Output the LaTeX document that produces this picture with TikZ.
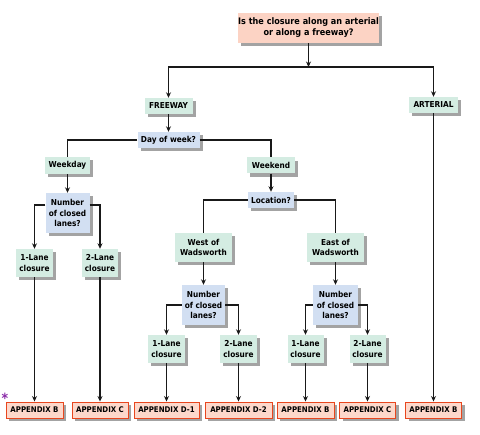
\documentclass[tikz,border=0pt]{standalone}
\usepackage{fontspec}
\setmainfont{DejaVu Sans Condensed}[BoldFont={DejaVu Sans Condensed Bold}]
\usepackage{xcolor}
\usepackage{tikz}
\usetikzlibrary{positioning,arrows.meta,shadows,calc}
\definecolor{qpink}{HTML}{FCD3C4}
\definecolor{appfill}{HTML}{FDD8CB}
\definecolor{appedge}{HTML}{E8461E}
\definecolor{ansgreen}{HTML}{D4ECE2}
\definecolor{askblue}{HTML}{D2DFF2}
\definecolor{starpurple}{HTML}{8A2BA8}
\tikzset{
  boxbase/.style = {rectangle, align=center, inner sep=0pt, text=black,
                    font=\fontsize{8.2}{10.5}\selectfont\bfseries,
                    drop shadow={shadow xshift=3pt, shadow yshift=-3.5pt, fill=black!60, opacity=.6}},
  qbox/.style    = {boxbase, fill=qpink, font=\fontsize{9}{11}\selectfont\bfseries},
  ansbox/.style  = {boxbase, fill=ansgreen},
  askbox/.style  = {boxbase, fill=askblue},
  appbox/.style  = {boxbase, fill=appfill, draw=appedge, line width=0.9pt,
                    font=\fontsize{7.8}{9}\selectfont\bfseries, minimum height=16pt},
  flow/.style    = {-{Stealth[length=5.5pt,width=5pt]}, line width=1.2pt, draw=black!90},
  link/.style    = {line width=1.2pt, draw=black!90},
}
\begin{document}
\begin{tikzpicture}[x=1pt,y=-1pt]
  \useasboundingbox (0,0) rectangle (480,435);
  % question at the top
  \node[qbox, minimum width=137pt, minimum height=30pt] (q) at (308.5,28)
    {Is the closure along an arterial\\or along a freeway?};
  \coordinate (split) at (308.5,67);
  \node[ansbox, minimum width=48pt, minimum height=16pt] (fw) at (168.5,106) {FREEWAY};
  \node[ansbox, minimum width=49pt, minimum height=16pt] (art) at (433.5,105) {ARTERIAL};
  \node[askbox, minimum width=62pt, minimum height=16pt] (dow) at (168.5,140) {Day of week?};
  % weekday branch
  \node[ansbox, minimum width=45pt, minimum height=17pt] (wkd) at (67.5,165.5) {Weekday};
  \node[askbox, minimum width=44pt, minimum height=40pt] (nlwkd) at (67.5,213)
    {Number\\of closed\\lanes?};
  \node[ansbox, minimum width=37pt, minimum height=28pt] (wkdone) at (34.5,263) {1-Lane\\closure};
  \node[ansbox, minimum width=36pt, minimum height=28pt] (wkdtwo) at (100,263) {2-Lane\\closure};
  % weekend branch
  \node[ansbox, minimum width=48pt, minimum height=16pt] (wke) at (271,165.5) {Weekend};
  \node[askbox, minimum width=46pt, minimum height=16pt] (loc) at (271,200) {Location?};
  \node[ansbox, minimum width=57pt, minimum height=29pt] (west) at (203.5,247.5) {West of\\Wadsworth};
  \node[ansbox, minimum width=57pt, minimum height=29pt] (east) at (335.5,247.5) {East of\\Wadsworth};
  \node[askbox, minimum width=43pt, minimum height=40pt] (nlwest) at (203.5,305)
    {Number\\of closed\\lanes?};
  \node[askbox, minimum width=45pt, minimum height=40pt] (nleast) at (335.5,305)
    {Number\\of closed\\lanes?};
  \node[ansbox, minimum width=37pt, minimum height=28pt] (westone) at (166.5,349) {1-Lane\\closure};
  \node[ansbox, minimum width=37pt, minimum height=28pt] (westtwo) at (238.5,349) {2-Lane\\closure};
  \node[ansbox, minimum width=36pt, minimum height=28pt] (eastone) at (305.5,349) {1-Lane\\closure};
  \node[ansbox, minimum width=36pt, minimum height=28pt] (easttwo) at (367.5,349) {2-Lane\\closure};
  % appendices
  \node[appbox, minimum width=57pt] (appa) at (34.5,410) {APPENDIX B};
  \node[appbox, minimum width=56pt] (appb) at (100,410) {APPENDIX C};
  \node[appbox, minimum width=65pt] (appc) at (166.5,410) {APPENDIX D-1};
  \node[appbox, minimum width=67pt] (appd) at (238.5,410) {APPENDIX D-2};
  \node[appbox, minimum width=57pt] (appe) at (305.5,410) {APPENDIX B};
  \node[appbox, minimum width=56pt] (appf) at (367.5,410) {APPENDIX C};
  \node[appbox, minimum width=56pt] (appg) at (433.5,410) {APPENDIX B};
  \node[text=starpurple, font=\fontsize{14}{14}\selectfont\bfseries, inner sep=0pt] (star) at (5,398) {*};

  \draw[flow] (q)--(split);
  \draw[flow] (split) -| (fw);
  \draw[flow] (split) -| (art);
  \draw[flow] (fw)--(dow);
  \draw[link] (dow) -| (wkd);
  \draw[link] (dow) -| (wke);
  \draw[flow] (wkd)--(nlwkd);
  \draw[flow] ([yshift=8pt]nlwkd.west) -| (wkdone);
  \draw[flow] ([yshift=8pt]nlwkd.east) -| (wkdtwo);
  \draw[flow] (wke)--(loc);
  \draw[link] (loc) -| (west);
  \draw[link] (loc) -| (east);
  \draw[flow] (west)--(nlwest);
  \draw[flow] (east)--(nleast);
  \draw[flow] (nlwest) -| (westone); \draw[flow] (nlwest) -| (westtwo);
  \draw[flow] (nleast) -| (eastone); \draw[flow] (nleast) -| (easttwo);
  \draw[flow] (wkdone)--(appa);
  \draw[flow] (wkdtwo)--(appb);
  \draw[flow] (westone)--(appc);
  \draw[flow] (westtwo)--(appd);
  \draw[flow] (eastone)--(appe);
  \draw[flow] (easttwo)--(appf);
  \draw[flow] (art)--(appg);
\end{tikzpicture}
\end{document}
